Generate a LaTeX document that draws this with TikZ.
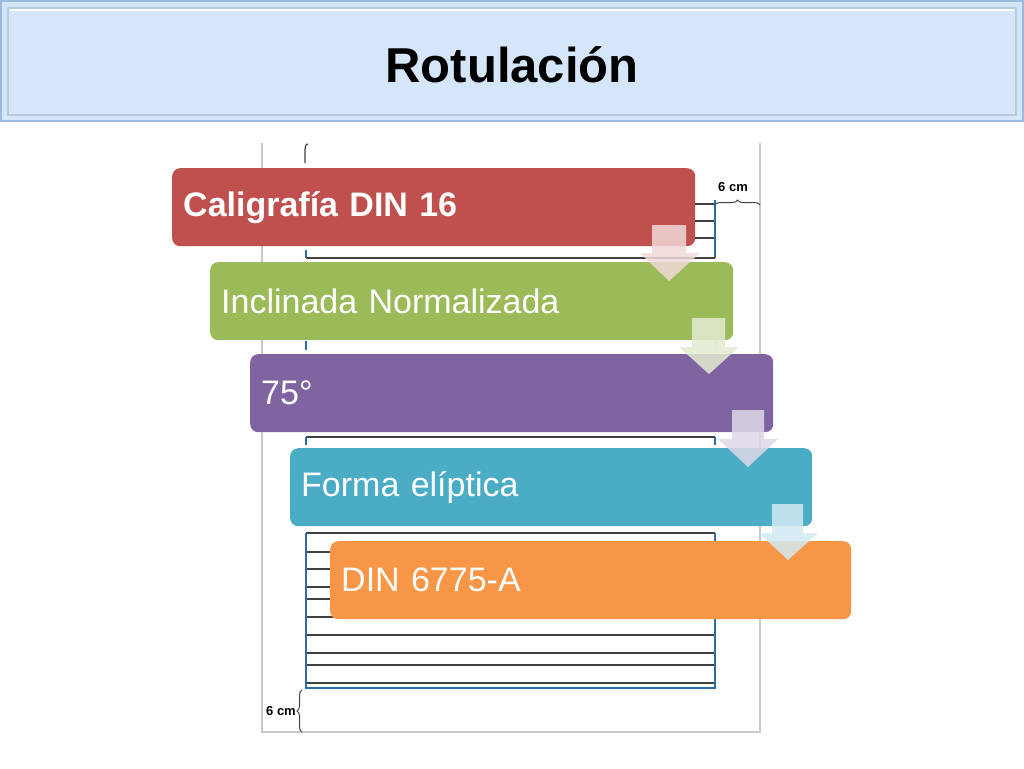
\documentclass[tikz,border=0pt]{standalone}
\usepackage{fontspec}
\setmainfont{Liberation Sans}
\usetikzlibrary{decorations.pathreplacing}
\definecolor{cRed}{HTML}{C0504D}
\definecolor{cGreen}{HTML}{9BBB59}
\definecolor{cPurple}{HTML}{8064A2}
\definecolor{cBlue}{HTML}{4BACC6}
\definecolor{cOrange}{HTML}{F79646}
\definecolor{titleFill}{HTML}{D5E6FA}
\definecolor{titleEdge}{HTML}{9DBBE0}
\definecolor{titleInner}{HTML}{B9C9DD}
\definecolor{pageGray}{HTML}{C8C8C8}
\definecolor{ruleDark}{HTML}{404040}
\definecolor{ruleBlue}{HTML}{2E6DA4}
\tikzset{
  stepbox/.style={rounded corners=8pt, anchor=north west, minimum height=78pt,
    inner xsep=11pt, text=white, align=left, font=\fontsize{34}{40}\selectfont},
  pageline/.style={draw=pageGray, line width=1.5pt},
  rule/.style={draw=ruleDark, line width=1.2pt},
  bluerule/.style={draw=ruleBlue, line width=1.3pt},
  flowarrow/.style={fill opacity=0.85, draw=none},
  dimlabel/.style={font=\fontsize{13}{15}\selectfont\bfseries, text=black, inner sep=1pt},
  bracedec/.style={decorate, decoration={brace, amplitude=5pt}, draw=ruleDark, line width=1pt}
}
\begin{document}
\begin{tikzpicture}[x=1pt, y=-1pt]
\useasboundingbox (0,0) rectangle (1024,768);
\fill[white] (0,0) rectangle (1024,768);

% page frame
\draw[pageline] (262,143) -- (262,732) -- (760,732) -- (760,143);

% top rules (mostly hidden)
\foreach \yy in {204,221,238} \draw[rule] (306,\yy) -- (715,\yy);
\draw[bluerule] (715,200) -- (715,258);
\draw[rule] (306,258) -- (715,258);
\draw[bluerule] (306,250) -- (306,258);
\draw[rule] (308,144) to[out=180,in=90] (305,150) -- (305,163);
% ticks between boxes
\draw[bluerule] (306,341) -- (306,350);
\draw[pageGray, line width=1pt] (715,341) -- (715,350);
\draw[rule] (306,437) -- (715,437);
\draw[bluerule] (306,437) -- (306,445);
\draw[bluerule] (715,437) -- (715,445);
% lower rules
\foreach \yy in {533,552,569,587,599,617,635,653,665,683} \draw[rule] (306,\yy) -- (715,\yy);
\draw[bluerule] (306,533) -- (306,688) -- (715,688) -- (715,533);

% braces and labels
\draw[bracedec] (715,205) -- (760,205);
\node[dimlabel] (topcm) at (733,187) {6 cm};
\draw[bracedec] (302,732) -- (302,690);
\node[dimlabel] (botcm) at (281,711) {6 cm};

% boxes
\node[stepbox, fill=cRed, text width=501pt, font=\fontsize{34}{40}\selectfont\bfseries] (b1) at (172,168) {Caligrafía DIN 16};
\node[stepbox, fill=cGreen, text width=501pt] (b2) at (210,262) {Inclinada Normalizada};
\node[stepbox, fill=cPurple, text width=501pt] (b3) at (250,354) {75°};
\node[stepbox, fill=cBlue, text width=500pt] (b4) at (290,448) {Forma elíptica};
\node[stepbox, fill=cOrange, text width=499pt] (b5) at (330,541) {DIN 6775-A};

% arrows
\fill[flowarrow, fill=cRed!22] (652,225) -- (686,225) -- (686,253) -- (700,253) -- (669,281) -- (640,253) -- (652,253) -- cycle;
\fill[flowarrow, fill=cGreen!28] (692,318) -- (725,318) -- (725,347) -- (739,347) -- (709,374) -- (679,347) -- (692,347) -- cycle;
\fill[flowarrow, fill=cPurple!25] (732,410) -- (764,410) -- (764,439) -- (778,439) -- (748,467) -- (718,439) -- (732,439) -- cycle;
\fill[flowarrow, fill=cBlue!25] (772,504) -- (803,504) -- (803,533) -- (818,533) -- (788,560) -- (759,533) -- (772,533) -- cycle;

% title band
\fill[titleFill] (0,0) rectangle (1024,122);
\draw[titleEdge, line width=2pt] (1,1) rectangle (1023,121);
\draw[titleInner, line width=1.2pt] (8,8) rectangle (1016,115);
\draw[white, line width=1.5pt] (10,10) -- (1014,10);
\node[font=\fontsize{49}{58}\selectfont\bfseries] (title) at (512,65) {Rotulación};
\end{tikzpicture}
\end{document}
